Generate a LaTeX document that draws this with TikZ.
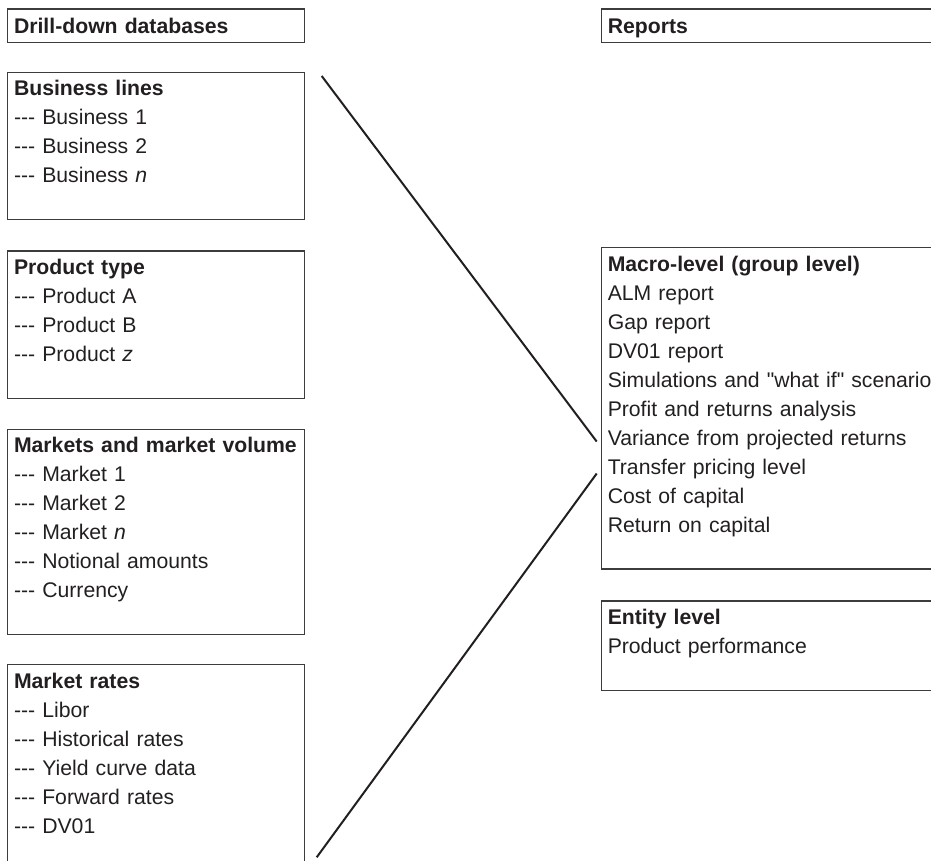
\documentclass[tikz,border=0pt]{standalone}
\usepackage{fontspec}
\setmainfont{Liberation Sans}[Ligatures=TeXOff]
\usepackage{tikz}
\usetikzlibrary{positioning}
\definecolor{drillink}{HTML}{231F20}
\definecolor{drillframe}{HTML}{3C3C3C}
\newcommand{\listdash}{\mbox{-}\mbox{-}\mbox{-}}

\begin{document}
\begin{tikzpicture}[
  x=0.5pt,y=-0.5pt,
  font=\fontsize{10.6}{14.5}\selectfont,
  text=drillink,
  head/.style={draw=drillframe,line width=0.65pt,anchor=north west,align=left,
    text width=142.1pt,inner xsep=3.2pt,text height=7.8pt,text depth=0pt,
    minimum height=16.7pt},
  panel/.style={draw=drillframe,line width=0.65pt,anchor=north west,align=left,
    text width=142.1pt,inner xsep=3.2pt,inner ysep=4pt},
  wide/.style={text width=170pt},
  link/.style={draw=drillink,line width=1pt}
]
  \useasboundingbox (0,0) rectangle (931,861);
  \clip (0,0) rectangle (931,861);

  % Left column: drill-down databases
  \node[head] (drill) at (7,8.3) {\textbf{Drill-down databases}};
  \node[panel,below=14.4pt of drill.south west,anchor=north west] (lines)
    {\textbf{Business lines}\\\listdash{} Business 1\\\listdash{} Business 2\\
     \listdash{} Business \textit{n}\\\mbox{}};
  \node[panel,below=15pt of lines.south west,anchor=north west] (prod)
    {\textbf{Product type}\\\listdash{} Product A\\\listdash{} Product B\\
     \listdash{} Product \textit{z}\\\mbox{}};
  \node[panel,below=14.7pt of prod.south west,anchor=north west] (mkts)
    {\textbf{Markets and market volume}\\\listdash{} Market 1\\\listdash{} Market 2\\
     \listdash{} Market \textit{n}\\\listdash{} Notional amounts\\\listdash{} Currency\\\mbox{}};
  \node[panel,below=14.4pt of mkts.south west,anchor=north west] (rates)
    {\textbf{Market rates}\\\listdash{} Libor\\\listdash{} Historical rates\\
     \listdash{} Yield curve data\\\listdash{} Forward rates\\\listdash{} DV01\\\mbox{}};

  % Right column: reports
  \node[head,wide] (reports) at (600.7,8.3) {\textbf{Reports}};
  \node[panel,wide] (macro) at (600.7,247)
    {\textbf{Macro-level (group level)}\\ALM report\\Gap report\\DV01 report\\
     Simulations and "what if" scenario\\Profit and returns analysis\\
     Variance from projected returns\\Transfer pricing level\\Cost of capital\\
     Return on capital\\\mbox{}};
  \node[panel,wide,below=15.3pt of macro.south west,anchor=north west] (entity)
    {\textbf{Entity level}\\Product performance\\\mbox{}};

  % fan lines
  \coordinate (fanA) at (321.7,76);
  \coordinate (fanB) at (316.7,857.3);
  \coordinate (tipA) at ([xshift=-2pt,yshift=-16.6pt]macro.west);
  \coordinate (tipB) at ([xshift=-2pt,yshift=-32.6pt]macro.west);
  \draw[link] (fanA) -- (tipA);
  \draw[link] (fanB) -- (tipB);
\end{tikzpicture}
\end{document}
